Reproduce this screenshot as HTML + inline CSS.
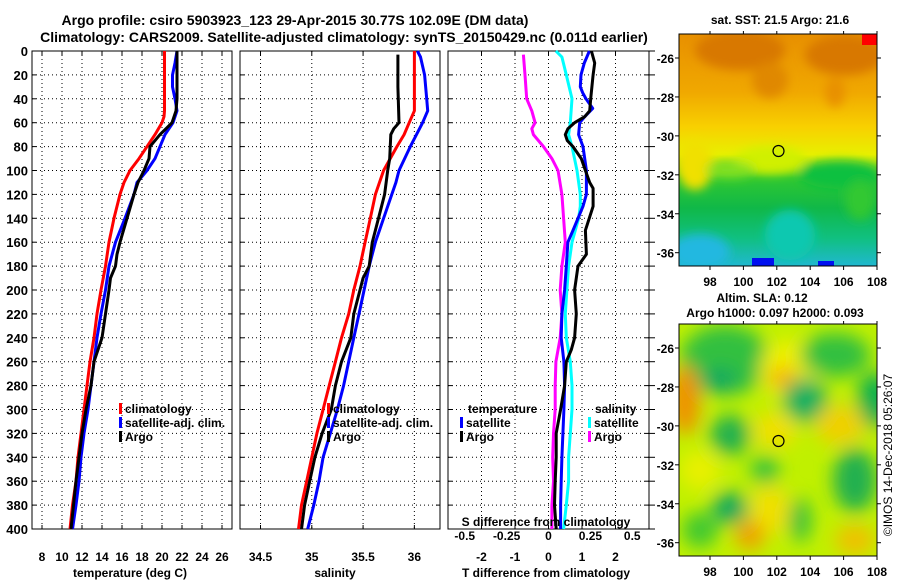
<!DOCTYPE html>
<html><head><meta charset="utf-8"><style>
body{margin:0;background:#fff;}
svg{display:block;font-family:"Liberation Sans",Arial,sans-serif;font-weight:bold;}
</style></head><body>
<svg id="c" width="900" height="580" viewBox="0 0 900 580" xmlns="http://www.w3.org/2000/svg">
<defs>
<filter id="bl" x="-50%" y="-50%" width="200%" height="200%"><feGaussianBlur stdDeviation="9"/></filter>
<filter id="bl2" x="-50%" y="-50%" width="200%" height="200%"><feGaussianBlur stdDeviation="5"/></filter>
<clipPath id="m1"><rect x="679" y="34" width="198" height="232"/></clipPath>
<clipPath id="m2"><rect x="679" y="324" width="198" height="232"/></clipPath>
<linearGradient id="sstg" x1="0" y1="0" x2="0" y2="1">
<stop offset="0" stop-color="#e89000"/>
<stop offset="0.25" stop-color="#f0a800"/>
<stop offset="0.4" stop-color="#f8d000"/>
<stop offset="0.52" stop-color="#e8f000"/>
<stop offset="0.62" stop-color="#30c830"/>
<stop offset="0.75" stop-color="#10b848"/>
<stop offset="0.88" stop-color="#10c080"/>
<stop offset="1" stop-color="#20b8d0"/>
</linearGradient>
</defs>
<text x="295" y="25" font-size="14" text-anchor="middle">Argo profile: csiro 5903923_123 29-Apr-2015 30.77S 102.09E (DM data)</text>
<text x="344" y="42" font-size="14" text-anchor="middle">Climatology: CARS2009. Satellite-adjusted climatology: synTS_20150429.nc (0.011d earlier)</text>

<!-- SST map -->
<g clip-path="url(#m1)">
<rect x="679" y="34" width="198" height="232" fill="url(#sstg)"/>
<g filter="url(#bl2)">
<ellipse cx="740" cy="50" rx="45" ry="20" fill="#d87800"/>
<ellipse cx="770" cy="80" rx="18" ry="18" fill="#e08800"/>
<ellipse cx="845" cy="55" rx="40" ry="20" fill="#d87800"/>
<ellipse cx="835" cy="92" rx="10" ry="15" fill="#e89000"/>
<ellipse cx="695" cy="165" rx="18" ry="25" fill="#f0e000"/>
<ellipse cx="770" cy="160" rx="35" ry="14" fill="#d0f000"/>
<ellipse cx="730" cy="170" rx="25" ry="8" fill="#80e020"/>
<ellipse cx="840" cy="175" rx="40" ry="14" fill="#10c040"/>
<ellipse cx="790" cy="235" rx="25" ry="25" fill="#10c8b0"/>
<ellipse cx="700" cy="252" rx="30" ry="18" fill="#20b8e0"/>
<ellipse cx="860" cy="200" rx="15" ry="20" fill="#30c830"/>
</g>
<rect x="752" y="258" width="22" height="8" fill="#0010f0"/>
<rect x="818" y="261" width="16" height="5" fill="#0010f0"/>
<rect x="862" y="34" width="15" height="11" fill="#ff0000"/>
</g>
<rect x="679" y="34" width="198" height="232" fill="none" stroke="#000"/>
<circle cx="778.5" cy="151" r="5.5" fill="none" stroke="#000" stroke-width="1.2"/>
<text x="780" y="24" font-size="12" text-anchor="middle">sat. SST: 21.5 Argo: 21.6</text>

<!-- SLA map -->
<g clip-path="url(#m2)">
<rect x="679" y="324" width="198" height="232" fill="#c0f000"/>
<g filter="url(#bl)">
<ellipse cx="725" cy="360" rx="45" ry="35" fill="#30c040"/>
<ellipse cx="720" cy="380" rx="18" ry="12" fill="#10a860"/>
<ellipse cx="790" cy="370" rx="30" ry="30" fill="#f0f000"/>
<ellipse cx="783" cy="378" rx="14" ry="11" fill="#f8b000"/>
<ellipse cx="835" cy="355" rx="35" ry="22" fill="#30c040"/>
<ellipse cx="875" cy="400" rx="18" ry="28" fill="#10b050"/>
<ellipse cx="805" cy="400" rx="22" ry="22" fill="#10b060"/>
<ellipse cx="685" cy="400" rx="15" ry="35" fill="#f09000"/>
<ellipse cx="730" cy="435" rx="20" ry="20" fill="#20b050"/>
<ellipse cx="775" cy="430" rx="22" ry="18" fill="#f0e000"/>
<ellipse cx="840" cy="425" rx="25" ry="20" fill="#f0d000"/>
<ellipse cx="855" cy="480" rx="22" ry="32" fill="#20b050"/>
<ellipse cx="765" cy="470" rx="14" ry="14" fill="#30c040"/>
<ellipse cx="770" cy="510" rx="20" ry="25" fill="#f0e000"/>
<ellipse cx="750" cy="535" rx="15" ry="15" fill="#f0a000"/>
<ellipse cx="730" cy="508" rx="18" ry="16" fill="#10a860"/>
<ellipse cx="700" cy="530" rx="18" ry="18" fill="#40c830"/>
<ellipse cx="800" cy="520" rx="11" ry="22" fill="#30c040"/>
<ellipse cx="855" cy="540" rx="20" ry="15" fill="#f0c000"/>
<ellipse cx="700" cy="470" rx="20" ry="20" fill="#e8f000"/>
</g>
</g>
<rect x="679" y="324" width="198" height="232" fill="none" stroke="#000"/>
<circle cx="778.5" cy="441" r="5.5" fill="none" stroke="#000" stroke-width="1.2"/>
<text x="762" y="302" font-size="12" text-anchor="middle">Altim. SLA: 0.12</text>
<text x="775" y="317" font-size="12" text-anchor="middle">Argo h1000: 0.097 h2000: 0.093</text>
<text transform="translate(892,455) rotate(-90)" font-size="12" font-weight="normal" text-anchor="middle">©IMOS 14-Dec-2018 05:26:07</text>
<g id="mapaxes"></g>
<g id="plots"></g>
</svg>
<script>
// ---------- data ----------
const tempClimDepth = [0,50,55,60,70,80,90,100,110,120,140,160,180,200,220,240,260,280,300,320,340,360,380,400];
const tempClim      = [20.25,20.25,20.2,20.0,19.3,18.5,17.7,16.8,16.2,15.8,15.2,14.7,14.35,13.9,13.5,13.2,12.8,12.5,12.2,11.9,11.6,11.4,11.05,10.8];
const tempSatDepth  = [0,10,20,30,40,50,60,70,80,90,100,110,120,140,160,180,200,220,240,260,280,300,320,340,360,380,400];
const tempSat       = [21.5,21.3,21.05,21.05,21.3,21.5,21.1,20.3,19.8,19.3,18.5,17.5,17.2,16.3,15.35,14.7,14.35,13.9,13.5,13.2,12.9,12.6,12.2,11.9,11.7,11.4,11.05];
const tempArgoDepth = [0,40,50,60,65,70,80,90,100,110,120,140,160,170,180,190,200,220,240,260,280,300,320,340,360,380,400];
const tempArgo      = [21.5,21.5,21.4,21.0,20.4,19.8,18.8,18.7,18.2,17.6,17.2,16.5,15.8,15.5,15.35,14.85,14.7,14.35,14.0,13.2,12.9,12.4,12.0,11.7,11.4,11.15,10.9];

const salClimDepth = [0,50,60,70,80,100,120,140,160,180,200,220,240,260,280,300,320,340,360,380,400];
const salClim      = [36.0,36.0,35.95,35.9,35.83,35.7,35.62,35.57,35.52,35.47,35.41,35.36,35.29,35.23,35.17,35.11,35.05,35.0,34.95,34.9,34.87];
const salSatDepth  = [0,5,20,40,50,60,80,100,110,120,140,160,180,200,220,240,260,280,300,320,340,360,380,400];
const salSat       = [36.03,36.06,36.1,36.12,36.13,36.08,35.96,35.85,35.82,35.78,35.7,35.62,35.56,35.51,35.46,35.41,35.36,35.31,35.25,35.18,35.11,35.07,35.02,34.96];
const salArgoDepth = [3,30,60,65,70,90,100,120,140,160,180,190,200,220,240,260,280,300,320,340,360,380,400];
const salArgo      = [35.84,35.84,35.85,35.8,35.77,35.76,35.74,35.71,35.65,35.59,35.56,35.5,35.47,35.41,35.38,35.29,35.23,35.19,35.1,35.03,34.98,34.93,34.9];

const dTSatDepth = [0,10,20,30,35,40,48,55,60,70,80,100,120,130,140,150,160,180,200,220,240,260,280,300,320,340,360,380,400];
const dTSat      = [1.22,1.07,0.97,0.95,1.02,1.12,1.32,1.08,0.93,0.9,1.03,1.13,1.13,1.03,0.88,0.73,0.58,0.53,0.48,0.4,0.38,0.46,0.48,0.46,0.43,0.4,0.38,0.36,0.36];
const dTArgoDepth = [0,10,20,40,50,55,60,65,70,75,80,90,100,110,115,130,150,170,180,200,220,240,250,260,280,300,320,340,360,380,400];
const dTArgo      = [1.28,1.38,1.33,1.26,1.23,1.08,0.78,0.58,0.5,0.56,0.73,0.98,1.1,1.23,1.33,1.33,1.1,1.13,0.88,0.78,0.83,0.78,0.68,0.53,0.48,0.36,0.23,0.23,0.2,0.18,0.23];
const dSSatDepth = [0,5,20,40,60,70,80,100,120,130,140,160,180,200,220,240,260,280,300,320,340,360,380,400];
const dSSat      = [0.044,0.08,0.106,0.14,0.13,0.12,0.14,0.17,0.19,0.19,0.18,0.14,0.12,0.11,0.1,0.106,0.13,0.14,0.14,0.13,0.12,0.12,0.106,0.09];
const dSArgoDepth = [3,20,40,50,60,65,70,80,90,100,120,140,160,180,200,220,240,260,280,300,320,340,360,380,400];
const dSArgo      = [-0.15,-0.14,-0.13,-0.1,-0.08,-0.1,-0.09,-0.03,0.02,0.057,0.08,0.09,0.1,0.08,0.07,0.08,0.07,0.044,0.04,0.04,0.03,0.025,0.03,0.02,0.02];

const depthTicks = [0,20,40,60,80,100,120,140,160,180,200,220,240,260,280,300,320,340,360,380,400];
const tempTicks = [8,10,12,14,16,18,20,22,24,26];
const salTicks = [34.5,35,35.5,36];
const salTickLabels = ["34.5","35","35.5","36"];
const dTTicks = [-2,-1,0,1,2];
const dTTickLabels = ["-2","-1","0","1","2"];
const dSTicks = [-0.5,-0.25,0,0.25,0.5];
const dSTickLabels = ["-0.5","-0.25","0","0.25","0.5"];
const lonTicks = [98,100,102,104,106,108];
const latTicks = [-26,-28,-30,-32,-34,-36];

// ---------- helpers ----------
const NS = "http://www.w3.org/2000/svg";
const root = document.getElementById('plots');
const mroot = document.getElementById('mapaxes');
function mk(tag, attrs, parent){ const e=document.createElementNS(NS,tag); for(const k in attrs) e.setAttribute(k,attrs[k]); (parent||root).appendChild(e); return e; }
const Y0=51, Y1=529;
const ys = d => Y0 + (d/400)*(Y1-Y0);
function lin(d0,d1,r0,r1){ return v => r0 + (v-d0)/(d1-d0)*(r1-r0); }

const panels = [
  {x0:32,x1:232,name:'temperature-panel'},
  {x0:240,x1:440,name:'salinity-panel'},
  {x0:448,x1:649,name:'difference-panel'}
];
const xsT = lin(7,27,32,232);
const xsS = lin(34.3,36.25,240,440);
const xsdT = lin(-3,3,448,649);
const xsdS = lin(-0.6,0.6,448,649);

function grid(p, xticks, xs){
  const g = mk('g',{});
  
  
  depthTicks.forEach(d=>{ if(d>0&&d<400) mk('line',{x1:p.x0,x2:p.x1,y1:ys(d),y2:ys(d),stroke:'#000','stroke-width':1,'stroke-dasharray':'1,3'},g); });
  xticks.forEach(v=>{ const x=xs(v); mk('line',{x1:x,x2:x,y1:Y0,y2:Y1,stroke:'#000','stroke-width':1,'stroke-dasharray':'1,3'},g);
    mk('line',{x1:x,x2:x,y1:Y1,y2:Y1-4,stroke:'#000'},g); mk('line',{x1:x,x2:x,y1:Y0,y2:Y0+4,stroke:'#000'},g); });
  depthTicks.forEach(d=>{ mk('line',{x1:p.x0,x2:p.x0+4,y1:ys(d),y2:ys(d),stroke:'#000'},g); mk('line',{x1:p.x1,x2:p.x1-4,y1:ys(d),y2:ys(d),stroke:'#000'},g); });
  const fr = mk('rect',{x:p.x0,y:Y0,width:p.x1-p.x0,height:Y1-Y0,fill:'none',stroke:'#000'});
  
  
}
grid(panels[0], tempTicks, xsT);
grid(panels[1], salTicks, xsS);
grid(panels[2], dTTicks, xsdT);
depthTicks.forEach(d=>{ mk('line',{x1:649,x2:655,y1:ys(d),y2:ys(d),stroke:'#000'}); });

function line(depths, vals, xs, color, name){
  const pts = depths.map((d,i)=>xs(vals[i]).toFixed(1)+','+ys(d).toFixed(1)).join(' ');
  const e = mk('polyline',{points:pts,fill:'none',stroke:color,'stroke-width':3,'stroke-linejoin':'round'});
  
  
}
line(tempClimDepth,tempClim,xsT,'#ff0000','temp-climatology-line');
line(tempSatDepth,tempSat,xsT,'#0000ff','temp-satellite-line');
line(tempArgoDepth,tempArgo,xsT,'#000000','temp-argo-line');
line(salClimDepth,salClim,xsS,'#ff0000','sal-climatology-line');
line(salSatDepth,salSat,xsS,'#0000ff','sal-satellite-line');
line(salArgoDepth,salArgo,xsS,'#000000','sal-argo-line');
line(dSArgoDepth,dSArgo,xsdS,'#ff00ff','s-diff-argo-line');
line(dSSatDepth,dSSat,xsdS,'#00ffff','s-diff-satellite-line');
line(dTSatDepth,dTSat,xsdT,'#0000ff','t-diff-satellite-line');
line(dTArgoDepth,dTArgo,xsdT,'#000000','t-diff-argo-line');

function txt(x,y,s,anchor,size,name){
  const t = mk('text',{x:x,y:y,'font-size':size||12,'text-anchor':anchor||'middle'});
  t.textContent = s;
  
  
  return t;
}
depthTicks.forEach(d=>txt(28,ys(d)+5,String(d),'end',13,'depth-tick-label'));
tempTicks.forEach(v=>txt(xsT(v),561,String(v),'middle',12,'temp-tick-label'));
salTicks.forEach((v,i)=>txt(xsS(v),561,salTickLabels[i],'middle',12,'sal-tick-label'));
dTTicks.forEach((v,i)=>txt(xsdT(v),561,dTTickLabels[i],'middle',12,'dt-tick-label'));
dSTicks.forEach((v,i)=>txt(xsdS(v),540,dSTickLabels[i],'middle',12,'ds-tick-label'));
txt(130,577,'temperature (deg C)','middle',12,'temp-axis-title');
txt(335,577,'salinity','middle',12,'sal-axis-title');
txt(546,577,'T difference from climatology','middle',12,'dt-axis-title');
txt(546,526,'S difference from climatology','middle',12,'ds-axis-title');

function leg(x,y,color,label,name){
  const g = mk('g',{});
  
  
  mk('rect',{x:x,y:y-10,width:3,height:11,fill:color},g);
  const t = mk('text',{x:x+6,y:y,'font-size':12},g); t.textContent=label;
}
leg(119,413,'#ff0000','climatology','legend-climatology');
leg(119,427,'#0000ff','satellite-adj. clim.','legend-satellite');
leg(119,441,'#000000','Argo','legend-argo');
leg(327,413,'#ff0000','climatology','legend-sal-climatology');
leg(327,427,'#0000ff','satellite-adj. clim.','legend-sal-satellite');
leg(327,441,'#000000','Argo','legend-sal-argo');
txt(468,413,'temperature','start',12,'legend-temperature-heading');
leg(460,427,'#0000ff','satellite','legend-t-satellite');
leg(460,441,'#000000','Argo','legend-t-argo');
txt(595,413,'salinity','start',12,'legend-salinity-heading');
leg(588,427,'#00ffff','satellite','legend-s-satellite');
leg(588,441,'#ff00ff','Argo','legend-s-argo');

// map axes
const lonX = lin(98,108,710,877);
[[34,266,58,252.7],[324,556,348,542.7]].forEach((m,k)=>{
  const latY = lin(-26,-36,m[2],m[3]);
  lonTicks.forEach(v=>{ const x=lonX(v);
    mk('line',{x1:x,x2:x,y1:m[1],y2:m[1]+4,stroke:'#000'},mroot);
    mk('line',{x1:x,x2:x,y1:m[0],y2:m[0]-3,stroke:'#000'},mroot);
    const t=mk('text',{x:x,y:m[1]+20,'font-size':12,'text-anchor':'middle'},mroot); t.textContent=String(v);
      });
  latTicks.forEach(v=>{ const y=latY(v);
    mk('line',{x1:679,x2:675,y1:y,y2:y,stroke:'#000'},mroot);
    mk('line',{x1:877,x2:881,y1:y,y2:y,stroke:'#000'},mroot);
    const t=mk('text',{x:674,y:y+5,'font-size':12,'text-anchor':'end'},mroot); t.textContent=String(v);
      });
});
</script>
</body></html>
